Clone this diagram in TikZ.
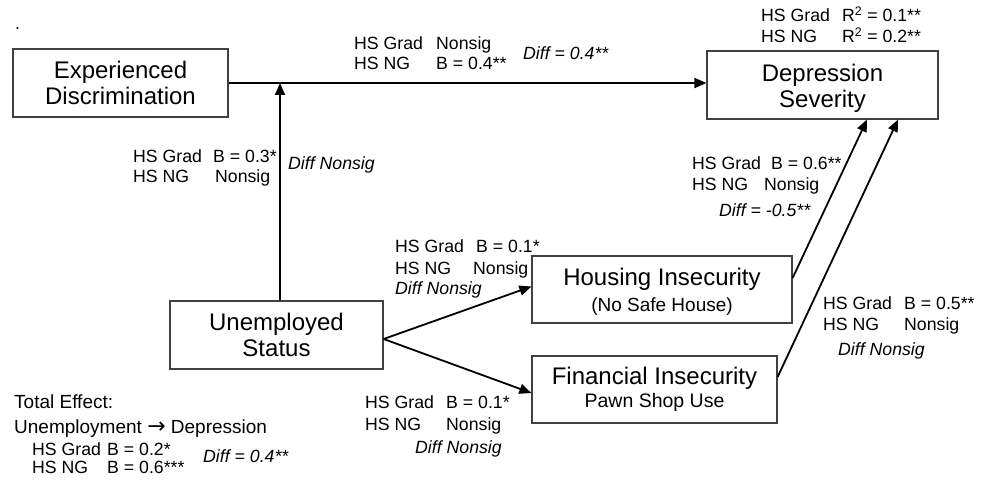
\documentclass[tikz,border=0pt]{standalone}
\usepackage{fontspec}
\setmainfont{Liberation Sans}
\newfontfamily\djv{DejaVu Sans}
\usetikzlibrary{arrows.meta}
\newcommand\lpair[3][81pt]{\makebox[#1][l]{#2}#3}
\begin{document}
\begin{tikzpicture}[x=1pt,y=-1pt,
  box/.style={draw=black!75, line width=1.2pt, rectangle, inner sep=0pt, align=center,
    font=\fontsize{24}{26}\selectfont},
  arr/.style={line width=1.8pt, -{Triangle[length=12pt,width=10pt]}},
  lbl/.style={anchor=base west, inner sep=0pt, font=\fontsize{17.7}{20}\selectfont},
  lbli/.style={lbl, font=\fontsize{17.7}{20}\selectfont\itshape}]
\useasboundingbox (0,0) rectangle (988,481);

% boxes
\node[box, minimum width=215pt, minimum height=68pt] (ED) at (120.5,83) {Experienced\\Discrimination};
\node[box, minimum width=231pt, minimum height=68pt] (DS) at (822.5,85) {\rule{0pt}{23.5pt}Depression\\Severity};
\node[box, minimum width=213pt, minimum height=68pt] (U) at (276.5,335) {Unemployed\\Status};
\node[box, minimum width=260pt, minimum height=67pt] (H) at (662,289.5) {\rule{0pt}{21.5pt}Housing Insecurity\\{\fontsize{19}{19}\selectfont (No Safe House)}};
\node[box, minimum width=245pt, minimum height=67pt, font=\fontsize{24}{23.5}\selectfont] (F) at (654.5,389.5) {Financial Insecurity\\{\fontsize{19.5}{19.5}\selectfont Pawn Shop Use}};

% connectors
\draw[arr] (ED.east) -- (ED.east -| DS.west);
\coordinate (ut) at ([xshift=3.5pt]U.north);
\coordinate (j) at (ut |- ED.east);
\draw[arr] (ut) -- (j);
\coordinate (us) at ([yshift=-4pt]U.east);
\draw[arr] (us) -- ([yshift=3pt]H.west);
\draw[arr] (us) -- ([yshift=-3.5pt]F.west);
\draw[arr] ([yshift=11.5pt]H.east) -- ([xshift=44.5pt]DS.south);
\draw[arr] ([yshift=12.5pt]F.east) -- ([xshift=75.5pt]DS.south);

% labels
\node[lbl] (dot) at (15,30) {.};
\node[lbl] (l1) at (354,50) {\begin{tabular}[t]{@{}l@{}}\lpair[82pt]{HS Grad}{Nonsig}\\ \lpair[82pt]{HS NG}{B = 0.4**}\end{tabular}};
\node[lbli] (d1) at (523,60) {Diff = 0.4**};
\node[lbl] (r2) at (761,22) {\begin{tabular}[t]{@{}l@{}}\lpair{HS Grad}{R\textsuperscript{2} = 0.1**}\\ \lpair{HS NG}{R\textsuperscript{2} = 0.2**}\end{tabular}};
\node[lbl] (l2) at (133,163) {\begin{tabular}[t]{@{}l@{}}\lpair[80pt]{HS Grad}{B = 0.3*}\\ \lpair[82pt]{HS NG}{Nonsig}\end{tabular}};
\node[lbli] (d2) at (288,170) {Diff Nonsig};
\node[lbl, font=\fontsize{17.7}{21}\selectfont] (l3) at (692,170) {\begin{tabular}[t]{@{}l@{}}\lpair[79pt]{HS Grad}{B = 0.6**}\\ \lpair[72pt]{HS NG}{Nonsig}\end{tabular}};
\node[lbli] (d3) at (719,217) {Diff = -0.5**};
\node[lbl, font=\fontsize{17.7}{21}\selectfont] (l4) at (395,253) {\begin{tabular}[t]{@{}l@{}}\lpair[81pt]{HS Grad}{B = 0.1*}\\ \lpair[78pt]{HS NG}{Nonsig}\\ \itshape Diff Nonsig\end{tabular}};
\node[lbl, font=\fontsize{17.7}{22}\selectfont] (l5) at (365,408) {\begin{tabular}[t]{@{}l@{}}\lpair{HS Grad}{B = 0.1*}\\ \lpair{HS NG}{Nonsig}\end{tabular}};
\node[lbli] (d5) at (415,453) {Diff Nonsig};
\node[lbl, font=\fontsize{17.7}{21}\selectfont] (l6) at (823,309) {\begin{tabular}[t]{@{}l@{}}\lpair{HS Grad}{B = 0.5**}\\ \lpair{HS NG}{Nonsig}\end{tabular}};
\node[lbli] (d6) at (838,355) {Diff Nonsig};
\node[lbl, font=\fontsize{19}{25}\selectfont] (te) at (14,408) {\begin{tabular}[t]{@{}l@{}}Total Effect:\\ Unemployment {\djv\fontsize{22}{22}\selectfont →} Depression\end{tabular}};
\node[lbl, font=\fontsize{17.7}{18}\selectfont] (l7) at (32,455) {\begin{tabular}[t]{@{}l@{}}\lpair[75pt]{HS Grad}{B = 0.2*}\\ \lpair[75pt]{HS NG}{B = 0.6***}\end{tabular}};
\node[lbli] (d7) at (203,462) {Diff = 0.4**};
\end{tikzpicture}
\end{document}
